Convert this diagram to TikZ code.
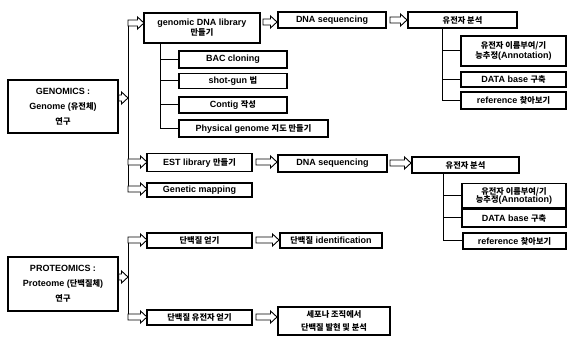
\documentclass[tikz,border=0pt]{standalone}
\usepackage{fontspec}
\setmainfont{Liberation Sans}
\newfontfamily\krfont{Noto Sans CJK KR Bold}
\newcommand\kr[1]{{\krfont\fontsize{8.2}{10}\selectfont #1}}
\usetikzlibrary{calc}
\newcommand\blockarr[4]{% name, x1, x2, y
  \coordinate (#1) at (#2,#4);
  \draw[line width=0.9pt, fill=white, line join=miter]
    (#2,#4-3) -- (#3-6.5,#4-3) -- (#3-6.5,#4-6) -- (#3,#4) -- (#3-6.5,#4+6)
    -- (#3-6.5,#4+3) -- (#2,#4+3) -- cycle;}
\begin{document}
\begin{tikzpicture}[x=1pt,y=-1pt,
  every node/.style={font=\fontsize{9}{10}\selectfont\bfseries},
  box/.style={draw, line width=1.3pt, fill=white, inner sep=1pt, align=center},
  conn/.style={line width=1pt}]
\useasboundingbox (0,0) rectangle (570,347);
% GENOMICS
\node[box, minimum width=110, minimum height=53] (G) at (63,106.5)
  {GENOMICS :\\[5pt] Genome (\kr{유전체})\\[5pt] \kr{연구}};
\node[box, minimum width=116, minimum height=30] (gdl) at (202,28) {genomic DNA library\\[0pt] \kr{만들기}};
\node[box, minimum width=108, minimum height=16] (ds1) at (332,20) {DNA sequencing};
\node[box, minimum width=109, minimum height=16] (ga1) at (462.5,20) {\kr{유전자 분석}};
\node[box, minimum width=105, minimum height=30] (ann1) at (513.5,51) {\kr{유전자 이름부여/기}\\[0pt] \kr{능추정}(Annotation)};
\node[box, minimum width=105, minimum height=15] (db1) at (513.5,79.5) {DATA base \kr{구축}};
\node[box, minimum width=105, minimum height=17] (ref1) at (513.5,100.5) {reference \kr{찾아보기}};
\node[box, minimum width=108, minimum height=17] (bac) at (233,59.5) {BAC cloning};
\node[box, minimum width=108, minimum height=15] (shot) at (233,81) {shot-gun \kr{법}};
\node[box, minimum width=108, minimum height=16] (contig) at (233,105) {Contig \kr{작성}};
\node[box, minimum width=149, minimum height=17] (phys) at (253.5,128.5) {Physical genome \kr{지도 만들기}};
\node[box, minimum width=105, minimum height=18] (est) at (199.5,162.5) {EST library \kr{만들기}};
\node[box, minimum width=109, minimum height=17] (ds2) at (332.5,163.5) {DNA sequencing};
\node[box, minimum width=107, minimum height=16] (ga2) at (465.5,165) {\kr{유전자 분석}};
\node[box, minimum width=104, minimum height=24] (ann2) at (514,195.5) {\kr{유전자 이름부여/기}\\[-2pt] \kr{능추정}(Annotation)};
\node[box, minimum width=104, minimum height=18] (db2) at (514,218) {DATA base \kr{구축}};
\node[box, minimum width=103, minimum height=16] (ref2) at (514.5,241) {reference \kr{찾아보기}};
\node[box, minimum width=105, minimum height=14] (gm) at (199.5,190) {Genetic mapping};
% PROTEOMICS
\node[box, minimum width=110, minimum height=54] (P) at (63,284)
  {PROTEOMICS :\\[5pt] Proteome (\kr{단백질체})\\[5pt] \kr{연구}};
\node[box, minimum width=105, minimum height=15] (pe) at (199.5,240.5) {\kr{단백질 얻기}};
\node[box, minimum width=105, minimum height=15] (pge) at (199.5,317.5) {\kr{단백질 유전자 얻기}};
\node[box, minimum width=102, minimum height=15] (pid) at (331,240.5) {\kr{단백질} identification};
\node[box, minimum width=112, minimum height=28] (pexp) at (334,321) {\kr{세포나 조직에서}\\[3pt] \kr{단백질 발현 및 분석}};
% trunks
\coordinate (t1top) at (128,23);
\coordinate (t1bot) at (128,189);
\draw[conn] (t1top) -- (t1bot);
\coordinate (t2top) at (128,240);
\coordinate (t2bot) at (128,317);
\draw[conn] (t2top) -- (t2bot);
% block arrows from boxes to trunks and from trunks to boxes
\blockarr{aG}{118.6}{128}{98}
\blockarr{aP}{118.6}{128}{277}
\blockarr{a1}{128}{144}{23}
\blockarr{a2}{128}{147}{162}
\blockarr{a3}{128}{147}{189}
\blockarr{a4}{128}{147}{240}
\blockarr{a5}{128}{147}{317}
% block arrows between boxes
\blockarr{b1}{263}{277}{22}
\blockarr{b2}{390}{407}{20}
\blockarr{b3}{256}{277}{162}
\blockarr{b4}{390}{411}{163}
\blockarr{b5}{256}{279}{240}
\blockarr{b6}{256}{277}{317}
% sub-branches under genomic DNA library
\coordinate (s1) at (160,0);
\draw[conn] (gdl.south -| s1) |- (phys.west);
\draw[conn] (bac.west -| s1) -- (bac.west);
\draw[conn] (shot.west -| s1) -- (shot.west);
\draw[conn] (contig.west -| s1) -- (contig.west);
% under 유전자 분석 1
\coordinate (s2) at (442,0);
\draw[conn] (ga1.south -| s2) |- (ref1.west);
\draw[conn] (ann1.west -| s2) -- (ann1.west);
\draw[conn] (db1.west -| s2) -- (db1.west);
% under 유전자 분석 2
\coordinate (s3) at (443,0);
\draw[conn] (ga2.south -| s3) |- (ref2.west);
\draw[conn] (ann2.west -| s3) -- (ann2.west);
\draw[conn] (db2.west -| s3) -- (db2.west);
\end{tikzpicture}
\end{document}
